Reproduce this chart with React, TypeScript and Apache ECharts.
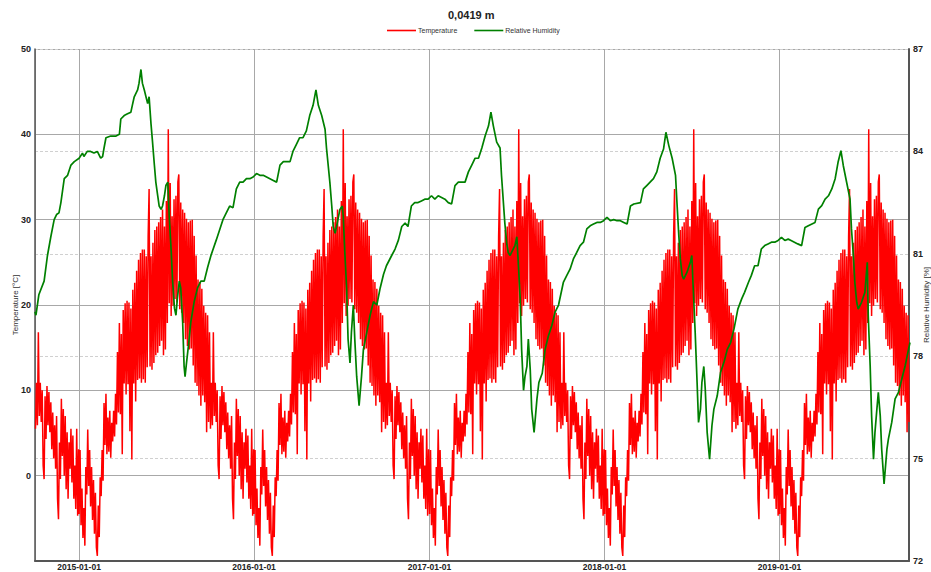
import React, { useEffect, useRef } from 'react';
import * as echarts from 'echarts';

const DAY = 24 * 3600 * 1000;
const TITLE = '0,0419 m';
const SERIES_NAMES = ['Temperature', 'Relative Humidity'];
const X_START: [number, number, number] = [2014, 9, 1];
const X_END: [number, number, number] = [2019, 8, 28];
const TEMP_YEARS = [2014, 2015, 2016, 2017, 2018, 2019];
const TEMP_STEP_DAYS = 2;

// Temperature over one climate year (value every 2 days from 1 Jan), repeated each year in the chart
const temperatureYear = [
  -4.5, 3.0, -5.8, -1.5, -7.3, -3.8, -8.2, 1.0, -2.2, 5.4,
  -1.2, 3.0, -3.6, 1.0, -5.2, -0.5, -6.8, -2.0, -8.4, -9.4,
  -3.5, -7.2, -0.2, -2.4, 3.0, -0.6, 8.5, 3.6, 9.6, 2.5,
  6.8, 2.8, 7.6, 2.1, 6.2, 4.0, 7.6, 4.6, 9.6, 6.0,
  14.5, 7.4, 17.9, 7.2, 16.6, 2.5, 19.4, 10.8, 20.2, 9.5,
  20.5, 10.7, 20.3, 5.2, 19.6, 1.9, 21.8, 10.8, 22.6, 8.7,
  24.0, 11.2, 25.3, 11.4, 26.1, 10.9, 26.5, 11.3, 26.5, 10.9,
  25.7, 12.7, 28.0, 33.6, 12.8, 25.7, 12.4, 27.3, 13.2, 28.8,
  14.1, 29.2, 14.4, 29.7, 15.2, 30.3, 15.8, 31.2, 14.1, 29.2,
  14.8, 32.2, 17.9, 40.6, 20.2, 34.3, 18.7, 30.4, 19.9, 32.4,
  20.7, 32.8, 20.3, 34.4, 35.3, 19.5, 32.0, 19.1, 31.2, 17.9,
  30.8, 16.0, 30.1, 15.2, 29.7, 14.8, 29.9, 14.9, 30.0, 12.9,
  28.1, 10.9, 25.8, 10.5, 23.0, 9.4, 22.7, 8.2, 21.9, 9.4,
  19.9, 8.6, 19.1, 5.1, 18.8, 6.3, 16.8, 5.5, 10.9, 5.9,
  16.8, 7.0, 10.9, 6.3, 10.0, 1.2, -0.4, 9.3, 4.3, 10.5,
  5.9, 9.8, 5.1, 8.6, 3.1, 7.4, 2.0, 5.9, 0.8, 7.0,
  -2.7, -5.1, 3.9, -0.4, 9.0, 2.3, 7.8, 0.0, 7.0, -1.6,
  5.1, -2.7, 3.9, 0.8, 5.5, -0.8, 4.7, -2.7, 1.2, -3.9,
  5.5, -4.7, 3.1,
];

// Relative humidity: [days from 1 Jan of the cycle year, value]
const rh2015: [number, number][] = [
  [-92, 79.3], [-90, 79.2], [-84, 79.8], [-73, 80.2], [-66, 80.95], [-59, 81.5], [-52, 82.0], [-47, 82.15],
  [-42, 82.2], [-38, 82.5], [-31, 83.2], [-24, 83.3], [-17, 83.6], [-10, 83.7], [0, 83.8], [7, 83.95],
  [10, 83.85], [17, 84.0], [24, 84.0], [31, 83.95], [38, 84.0], [45, 83.8], [49, 83.85], [52, 84.1],
  [56, 84.4], [66, 84.45], [77, 84.45], [84, 84.5], [87, 84.95], [94, 85.05], [101, 85.1], [108, 85.15],
  [111, 85.35], [115, 85.6], [122, 85.8], [125, 86.0], [129, 86.4], [132, 86.0], [136, 85.8], [143, 85.4],
  [146, 85.6], [150, 84.8], [153, 84.3], [157, 83.6], [160, 83.1], [164, 82.7], [167, 82.4], [171, 82.3],
  [174, 82.4], [178, 82.7], [181, 83.0], [185, 83.1], [188, 82.1], [192, 81.1], [195, 80.2], [199, 79.4],
  [202, 79.2], [205, 79.7], [209, 80.2], [212, 80.0], [216, 79.0], [219, 77.7], [221, 77.4], [224, 77.8],
  [228, 78.3], [233, 79.0], [240, 79.6], [247, 80.0], [254, 80.2], [261, 80.2], [268, 80.6], [275, 80.95],
];
const rh2016: [number, number][] = [
  [-79, 81.4], [-72, 81.7], [-65, 82.0], [-58, 82.2], [-51, 82.4], [-44, 82.35], [-37, 82.9], [-30, 83.1],
  [-23, 83.1], [-16, 83.2], [-9, 83.2], [-2, 83.25], [5, 83.35], [12, 83.3], [19, 83.3], [26, 83.25],
  [33, 83.2], [40, 83.15], [47, 83.1], [54, 83.6], [61, 83.7], [75, 83.7], [81, 84.0], [88, 84.2],
  [95, 84.4], [102, 84.4], [109, 84.6], [116, 85.05], [123, 85.35], [129, 85.8], [134, 85.35], [141, 85.05],
  [148, 84.65], [151, 84.1], [158, 83.1], [162, 82.4], [165, 81.8], [169, 81.6], [172, 81.8], [179, 82.3],
  [184, 82.4], [186, 82.1], [189, 81.1], [193, 80.0], [196, 78.5], [200, 77.8], [203, 78.7], [207, 79.5],
  [210, 78.5], [214, 77.4], [219, 76.55], [224, 77.4], [228, 78.2], [235, 78.7], [242, 79.2], [249, 79.6],
  [256, 79.5], [263, 80.0], [270, 80.4], [276, 80.65],
];
const rh2017: [number, number][] = [
  [-79, 80.95], [-72, 81.14], [-65, 81.4], [-58, 81.8], [-51, 81.9], [-45, 81.8], [-38, 82.4], [-31, 82.5],
  [-24, 82.5], [-17, 82.55], [-10, 82.6], [-3, 82.6], [4, 82.7], [11, 82.6], [18, 82.7], [25, 82.65],
  [32, 82.6], [39, 82.5], [46, 82.46], [53, 83.0], [60, 83.1], [74, 83.1], [81, 83.4], [88, 83.6],
  [95, 83.8], [102, 83.8], [109, 84.1], [116, 84.46], [123, 84.75], [128, 85.15], [133, 84.75], [140, 84.27],
  [147, 84.1], [150, 83.3], [157, 81.9], [161, 81.3], [164, 81.04], [168, 80.95], [171, 81.04], [178, 81.24],
  [182, 81.5], [185, 80.75], [189, 79.7], [192, 78.2], [196, 77.0], [199, 77.4], [203, 77.7], [206, 78.5],
  [210, 77.6], [213, 76.45], [218, 75.77], [224, 76.75], [228, 77.23], [235, 77.5], [241, 78.2], [248, 78.6],
  [255, 78.9], [262, 79.3], [269, 79.5],
];
const rh2018: [number, number][] = [
  [-86, 80.16], [-79, 80.36], [-72, 80.55], [-65, 80.85], [-58, 81.04], [-51, 81.24], [-44, 81.34], [-37, 81.73],
  [-30, 81.82], [-23, 81.87], [-16, 81.92], [-9, 81.92], [-2, 81.97], [5, 82.07], [12, 81.97], [19, 82.0],
  [26, 81.97], [33, 81.97], [40, 81.92], [47, 81.87], [54, 82.4], [61, 82.46], [75, 82.5], [81, 82.9],
  [88, 83.0], [95, 83.1], [102, 83.2], [109, 83.4], [116, 83.8], [123, 84.07], [128, 84.56], [134, 84.17],
  [141, 83.8], [148, 83.3], [151, 82.5], [155, 81.5], [158, 80.85], [162, 80.36], [165, 80.26], [172, 80.46],
  [179, 80.75], [182, 80.95], [185, 79.97], [189, 78.7], [193, 77.23], [196, 76.06], [200, 76.45], [203, 77.23],
  [207, 77.7], [210, 77.04], [214, 75.77], [219, 74.98], [224, 75.97], [228, 76.45], [235, 76.84], [242, 77.53],
  [249, 77.82], [256, 78.2], [263, 78.4], [270, 78.8],
];
const rh2019: [number, number][] = [
  [-87, 79.38], [-79, 79.68], [-73, 79.87], [-65, 80.16], [-59, 80.36], [-52, 80.65], [-45, 80.65], [-38, 81.14],
  [-31, 81.24], [-24, 81.29], [-17, 81.34], [-10, 81.34], [-3, 81.39], [4, 81.48], [11, 81.39], [18, 81.43],
  [24, 81.39], [31, 81.34], [38, 81.29], [46, 81.24], [53, 81.77], [60, 81.82], [74, 81.92], [81, 82.31],
  [88, 82.41], [95, 82.6], [102, 82.7], [109, 82.9], [116, 83.2], [122, 83.68], [128, 84.02], [133, 83.58],
  [140, 83.09], [147, 82.6], [150, 81.73], [154, 80.95], [157, 80.16], [161, 79.58], [164, 79.38], [171, 79.58],
  [178, 79.87], [183, 80.75], [185, 79.19], [189, 77.72], [192, 76.26], [196, 74.98], [199, 75.77], [203, 76.45],
  [206, 76.94], [210, 76.26], [213, 75.28], [218, 74.26], [224, 75.28], [227, 75.57], [234, 76.06], [241, 76.75],
  [248, 76.94], [255, 77.33], [262, 77.72], [269, 78.2], [272, 78.4],
];
const rhCycles: { year: number; points: [number, number][] }[] = [
  { year: 2015, points: rh2015 },
  { year: 2016, points: rh2016 },
  { year: 2017, points: rh2017 },
  { year: 2018, points: rh2018 },
  { year: 2019, points: rh2019 },
];

const TEMP_AXIS = { min: -10, max: 50, interval: 10 };
const RH_AXIS = { min: 72, max: 87, interval: 3 };

const pad = (n: number) => (n < 10 ? '0' + n : '' + n);

export default function App() {
  const ref = useRef<HTMLDivElement>(null);

  useEffect(() => {
    if (!ref.current) return;
    const chart = echarts.init(ref.current, undefined, { renderer: 'svg' });
    const xMin = new Date(X_START[0], X_START[1], X_START[2]).getTime();
    const xMax = new Date(X_END[0], X_END[1], X_END[2]).getTime();

    const tempData: [number, number][] = [];
    TEMP_YEARS.forEach((y) => {
      temperatureYear.forEach((v, i) => {
        const t = new Date(y, 0, 1 + i * TEMP_STEP_DAYS).getTime();
        if (t >= xMin && t <= xMax) tempData.push([t, v]);
      });
    });
    const rhData: [number, number][] = [];
    rhCycles.forEach((c) => {
      c.points.forEach(([d, v]) => {
        rhData.push([new Date(c.year, 0, 1 + d).getTime(), v]);
      });
    });

    const font = 'Liberation Sans, Arial, sans-serif';
    chart.setOption({
      animation: false,
      backgroundColor: '#ffffff',
      title: {
        text: TITLE,
        left: 448,
        top: 9,
        padding: 0,
        textStyle: { fontSize: 11, fontWeight: 'bold', color: '#222', fontFamily: font },
      },
      legend: {
        data: SERIES_NAMES,
        left: 387,
        top: 27,
        padding: 0,
        icon: 'rect',
        itemWidth: 29,
        itemHeight: 1.6,
        itemGap: 17,
        textStyle: { fontSize: 7, color: '#333', fontFamily: font, padding: [0, 0, 0, -3] },
      },
      grid: {
        left: 35,
        right: 22,
        top: 49,
        bottom: 11,
        containLabel: false,
        outerBoundsMode: 'none',
      },
      xAxis: {
        type: 'time',
        min: xMin,
        max: xMax,
        minInterval: 365 * DAY,
        maxInterval: 366 * DAY,
        axisLine: { show: true, onZero: false, lineStyle: { color: '#555', width: 2 } },
        axisTick: { show: false },
        axisLabel: {
          margin: 1,
          fontSize: 8.5,
          fontWeight: 'bold',
          color: '#222',
          fontFamily: font,
          hideOverlap: false,
          formatter: (v: number) => {
            const d = new Date(v);
            return `${d.getFullYear()}-${pad(d.getMonth() + 1)}-${pad(d.getDate())}`;
          },
        },
        splitLine: { show: true, lineStyle: { color: '#a8a8a8', width: 1 } },
      },
      yAxis: [
        {
          type: 'value',
          position: 'left',
          min: TEMP_AXIS.min,
          max: TEMP_AXIS.max,
          interval: TEMP_AXIS.interval,
          name: 'Temperature [°C]',
          nameLocation: 'middle',
          nameGap: 16,
          nameRotate: 90,
          nameMoveOverlap: false,
          nameTextStyle: { fontSize: 8, color: '#333', fontFamily: font },
          axisLine: { show: true, onZero: false, lineStyle: { color: '#555', width: 1.5 } },
          axisTick: { show: false },
          axisLabel: {
            showMinLabel: false,
            margin: 4,
            fontSize: 9,
            fontWeight: 'bold',
            color: '#222',
            fontFamily: font,
          },
          splitLine: { show: true, lineStyle: { color: '#a8a8a8', width: 1 } },
        },
        {
          type: 'value',
          position: 'right',
          min: RH_AXIS.min,
          max: RH_AXIS.max,
          interval: RH_AXIS.interval,
          name: 'Relative Humidity [%]',
          nameLocation: 'middle',
          nameGap: 13,
          nameRotate: 90,
          nameMoveOverlap: false,
          nameTextStyle: { fontSize: 8, color: '#333', fontFamily: font },
          axisLine: { show: true, onZero: false, lineStyle: { color: '#555', width: 2 } },
          axisTick: { show: false },
          axisLabel: {
            margin: 4,
            fontSize: 9,
            fontWeight: 'bold',
            color: '#222',
            fontFamily: font,
          },
          splitLine: { show: true, lineStyle: { color: '#d0d0d0', width: 1, type: [3, 2] } },
        },
      ],
      series: [
        {
          name: SERIES_NAMES[0],
          type: 'line',
          yAxisIndex: 0,
          data: tempData,
          showSymbol: false,
          symbol: 'none',
          lineStyle: { color: '#ff0000', width: 1.5 },
          itemStyle: { color: '#ff0000' },
          silent: true,
        },
        {
          name: SERIES_NAMES[1],
          type: 'line',
          yAxisIndex: 1,
          data: rhData,
          showSymbol: false,
          symbol: 'none',
          lineStyle: { color: '#008000', width: 1.7 },
          itemStyle: { color: '#008000' },
          silent: true,
        },
      ],
    });
    return () => chart.dispose();
  }, []);

  return <div ref={ref} style={{ width: 931, height: 572, position: 'absolute', left: 0, top: 0 }} />;
}
